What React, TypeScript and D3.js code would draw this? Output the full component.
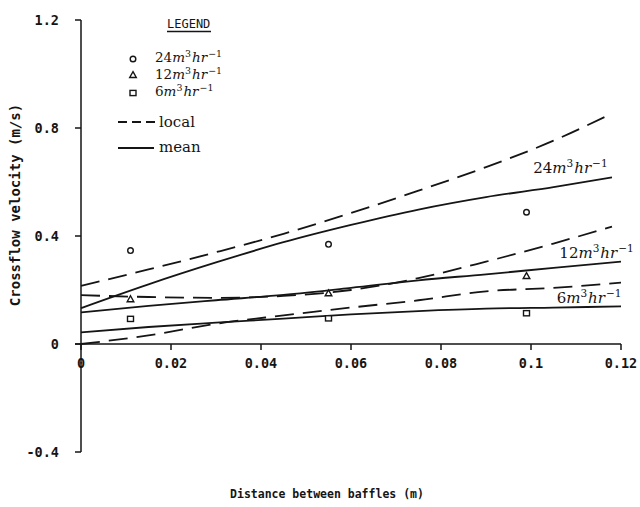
import React, { useEffect, useRef } from 'react';
import * as d3 from 'd3';

const WIDTH = 640;
const HEIGHT = 507;

// axis ticks
const xTicks = [0, 0.02, 0.04, 0.06, 0.08, 0.1, 0.12];
const xTickLabels = ['0', '0.02', '0.04', '0.06', '0.08', '0.1', '0.12'];
const yTicks = [-0.4, 0, 0.4, 0.8, 1.2];
const yTickLabels = ['-0.4', '0', '0.4', '0.8', '1.2'];

// measured points
const pointX = [0.011, 0.055, 0.099];
const points24 = [0.346, 0.369, 0.488];
const points12 = [0.166, 0.188, 0.252];
const points6 = [0.093, 0.095, 0.114];

// fitted curves
const curveX = [0, 0.015, 0.03, 0.045, 0.06, 0.075, 0.09, 0.105, 0.118];
const curveXLong = [0, 0.015, 0.03, 0.045, 0.06, 0.075, 0.09, 0.105, 0.12];
const local24 = [0.215, 0.276, 0.340, 0.408, 0.485, 0.568, 0.655, 0.753, 0.854];
const mean24 = [0.133, 0.221, 0.302, 0.377, 0.441, 0.498, 0.544, 0.581, 0.617];
const local12 = [0.181, 0.174, 0.171, 0.178, 0.200, 0.244, 0.305, 0.372, 0.435];
const mean12 = [0.117, 0.141, 0.162, 0.182, 0.208, 0.236, 0.258, 0.282, 0.305];
const local6 = [0.0, 0.032, 0.075, 0.106, 0.135, 0.162, 0.195, 0.208, 0.227];
const mean6 = [0.043, 0.063, 0.079, 0.094, 0.110, 0.122, 0.131, 0.135, 0.139];

const seriesNames = ['24', '12', '6'];

const MONO = "'DejaVu Sans Mono', monospace";
const SERIF = "'DejaVu Serif', 'Liberation Serif', serif";
const INK = '#151515';

type Marker = 'circle' | 'triangle' | 'square';

export default function App() {
  const svgRef = useRef<SVGSVGElement>(null);

  useEffect(() => {
    if (!svgRef.current) return;
    const svg = d3.select(svgRef.current);
    svg.selectAll('*').remove();

    const x = d3.scaleLinear().domain([0, 0.12]).range([81, 621]);
    const y = d3.scaleLinear().domain([-0.4, 1.2]).range([452, 20]);

    // axes
    svg.append('line')
      .attr('x1', x(0)).attr('x2', x(0))
      .attr('y1', y(1.2)).attr('y2', y(-0.4))
      .attr('stroke', INK).attr('stroke-width', 1.5);
    svg.append('line')
      .attr('x1', x(0) - 6).attr('x2', x(0.12))
      .attr('y1', y(0)).attr('y2', y(0))
      .attr('stroke', INK).attr('stroke-width', 1.5);

    svg.selectAll('.ytick')
      .data(yTicks)
      .enter().append('line')
      .attr('x1', x(0) - 6).attr('x2', x(0))
      .attr('y1', d => y(d)).attr('y2', d => y(d))
      .attr('stroke', INK).attr('stroke-width', 1.5);

    svg.selectAll('.ylabel')
      .data(yTicks)
      .enter().append('text')
      .attr('x', 59)
      .attr('y', d => y(d) + 5)
      .attr('text-anchor', 'end')
      .style('font-family', MONO)
      .style('font-size', '13.5px')
      .style('font-weight', 'bold')
      .style('fill', INK)
      .text((d, i) => yTickLabels[i]);

    svg.selectAll('.xtick')
      .data(xTicks)
      .enter().append('line')
      .attr('x1', d => x(d)).attr('x2', d => x(d))
      .attr('y1', y(0)).attr('y2', y(0) + 6)
      .attr('stroke', INK).attr('stroke-width', 1.5);

    svg.selectAll('.xlabel')
      .data(xTicks)
      .enter().append('text')
      .attr('x', d => x(d))
      .attr('y', y(0) + 24)
      .attr('text-anchor', 'middle')
      .style('font-family', MONO)
      .style('font-size', '13.5px')
      .style('font-weight', 'bold')
      .style('fill', INK)
      .text((d, i) => xTickLabels[i]);

    // axis titles
    svg.append('text')
      .attr('transform', `translate(20,205) rotate(-90)`)
      .attr('text-anchor', 'middle')
      .style('font-family', MONO)
      .style('font-size', '14px')
      .style('font-weight', 'bold')
      .style('fill', INK)
      .text('Crossflow velocity (m/s)');

    svg.append('text')
      .attr('x', 327)
      .attr('y', 498)
      .attr('text-anchor', 'middle')
      .style('font-family', MONO)
      .style('font-size', '11.5px')
      .style('font-weight', 'bold')
      .style('fill', INK)
      .text('Distance between baffles (m)');

    // curves
    const line = d3.line<[number, number]>()
      .x(d => x(d[0]))
      .y(d => y(d[1]))
      .curve(d3.curveMonotoneX);

    const curves: { xs: number[]; ys: number[]; dashed: boolean }[] = [
      { xs: curveX, ys: local24, dashed: true },
      { xs: curveX, ys: mean24, dashed: false },
      { xs: curveX, ys: local12, dashed: true },
      { xs: curveXLong, ys: mean12, dashed: false },
      { xs: curveXLong, ys: local6, dashed: true },
      { xs: curveXLong, ys: mean6, dashed: false },
    ];

    curves.forEach(c => {
      svg.append('path')
        .datum(c.xs.map((v, i) => [v, c.ys[i]] as [number, number]))
        .attr('d', line)
        .attr('fill', 'none')
        .attr('stroke', INK)
        .attr('stroke-width', 1.8)
        .attr('stroke-dasharray', c.dashed ? '19,9' : null);
    });

    // markers
    const drawMarker = (g: d3.Selection<SVGSVGElement, unknown, null, undefined>, kind: Marker, cx: number, cy: number) => {
      if (kind === 'circle') {
        g.append('circle').attr('cx', cx).attr('cy', cy).attr('r', 2.8)
          .attr('fill', 'white').attr('stroke', INK).attr('stroke-width', 1.4);
      } else if (kind === 'triangle') {
        g.append('path')
          .attr('d', `M${cx},${cy - 3.4}L${cx + 3.3},${cy + 2.5}L${cx - 3.3},${cy + 2.5}Z`)
          .attr('fill', 'white').attr('stroke', INK).attr('stroke-width', 1.4);
      } else {
        g.append('rect').attr('x', cx - 3).attr('y', cy - 2.6).attr('width', 6).attr('height', 5.2)
          .attr('fill', 'white').attr('stroke', INK).attr('stroke-width', 1.4);
      }
    };

    const pointSets: { ys: number[]; kind: Marker }[] = [
      { ys: points24, kind: 'circle' },
      { ys: points12, kind: 'triangle' },
      { ys: points6, kind: 'square' },
    ];
    pointSets.forEach(s => {
      s.ys.forEach((v, i) => drawMarker(svg, s.kind, x(pointX[i]), y(v)));
    });

    // flow-rate label with italic units and superscripts
    const flowLabel = (px: number, py: number, num: string, size: number) => {
      const sup = size * 0.7;
      const rise = Math.round(size * 0.38);
      const t = svg.append('text')
        .attr('x', px).attr('y', py)
        .style('font-family', SERIF)
        .style('font-size', `${size}px`)
        .style('fill', INK);
      t.append('tspan').text(num);
      t.append('tspan').style('font-style', 'italic').text('m');
      t.append('tspan').attr('dy', -rise).style('font-size', `${sup}px`).text('3');
      t.append('tspan').attr('dy', rise).attr('dx', 1).style('font-style', 'italic').text('hr');
      t.append('tspan').attr('dy', -rise).attr('dx', 1).style('font-size', `${sup}px`).text('\u22121');
    };

    flowLabel(x(0.1005), y(0.633), seriesNames[0], 15);
    flowLabel(x(0.1063), y(0.318), seriesNames[1], 15);
    flowLabel(x(0.1057), y(0.152), seriesNames[2], 15);

    // legend
    svg.append('text')
      .attr('x', 167).attr('y', 28)
      .style('font-family', MONO)
      .style('font-size', '12px')
      .style('fill', INK)
      .text('LEGEND');
    svg.append('line')
      .attr('x1', 167).attr('x2', 211).attr('y1', 31.5).attr('y2', 31.5)
      .attr('stroke', INK).attr('stroke-width', 1.6);

    const legendRows: { kind: Marker; ty: number; my: number }[] = [
      { kind: 'circle', ty: 62, my: 59 },
      { kind: 'triangle', ty: 79, my: 75 },
      { kind: 'square', ty: 96, my: 93 },
    ];
    legendRows.forEach((r, i) => {
      drawMarker(svg, r.kind, 133, r.my);
      flowLabel(155, r.ty, seriesNames[i], 13.5);
    });

    svg.append('line')
      .attr('x1', 118).attr('x2', 158).attr('y1', 122).attr('y2', 122)
      .attr('stroke', INK).attr('stroke-width', 1.8)
      .attr('stroke-dasharray', '9,5');
    svg.append('text')
      .attr('x', 159).attr('y', 127)
      .style('font-family', SERIF).style('font-size', '15px').style('fill', INK)
      .text('local');

    svg.append('line')
      .attr('x1', 118).attr('x2', 154).attr('y1', 148).attr('y2', 148)
      .attr('stroke', INK).attr('stroke-width', 1.8);
    svg.append('text')
      .attr('x', 159).attr('y', 152)
      .style('font-family', SERIF).style('font-size', '15px').style('fill', INK)
      .text('mean');
  }, []);

  return (
    <svg
      ref={svgRef}
      width={WIDTH}
      height={HEIGHT}
      style={{ position: 'absolute', left: 0, top: 0, background: 'white' }}
    />
  );
}
